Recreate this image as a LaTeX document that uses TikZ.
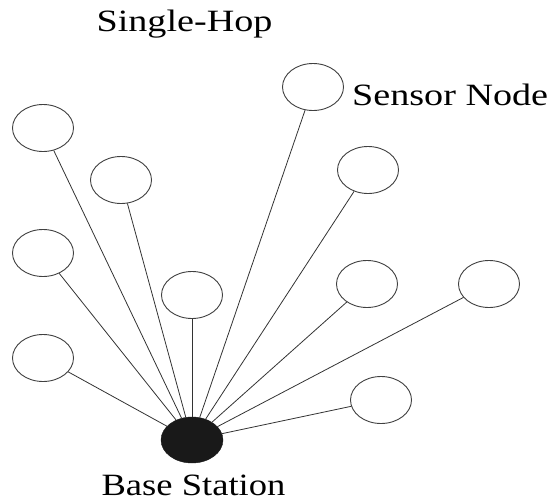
\documentclass[tikz,border=0pt]{standalone}
\usepackage{fontspec}
\setmainfont{Liberation Serif}
\usetikzlibrary{shapes.geometric}
\tikzset{
  sensor/.style={ellipse, draw=black!75, line width=0.9pt, fill=white, minimum width=61pt, minimum height=47pt, inner sep=0pt},
  basest/.style={ellipse, fill=black!90, draw=black!90, minimum width=62pt, minimum height=46pt, inner sep=0pt},
  link/.style={draw=black!80, line width=0.8pt},
  lbl/.style={font=\fontsize{31}{36}\selectfont, inner sep=0pt, text=black}
}
\begin{document}
\begin{tikzpicture}[x=1pt,y=-1pt]
\useasboundingbox (0,0) rectangle (554,501);
\node[basest] (bs) at (192,440) {};
\node[sensor] (c1) at (43,128) {};
\node[sensor] (c2) at (121,180) {};
\node[sensor] (c3) at (43,253) {};
\node[sensor] (c4) at (192,295) {};
\node[sensor] (c5) at (43,358) {};
\node[sensor] (c6) at (313,87) {};
\node[sensor] (c7) at (368,170) {};
\node[sensor] (c8) at (367,284) {};
\node[sensor] (c9) at (489,284) {};
\node[sensor] (c10) at (381,400) {};
\foreach \c in {c1,c2,c3,c4,c5,c6,c7,c8,c9,c10}
  \draw[link] (bs) -- (\c);
\node[lbl, anchor=base] (t1) at (184.5,31) {\scalebox{1.23}[1]{Single-Hop}};
\node[lbl, anchor=base west] (t2) at (352,105) {\scalebox{1.23}[1]{Sensor Node}};
\node[lbl, anchor=base] (t3) at (193.5,495) {\scalebox{1.18}[1]{Base Station}};
\end{tikzpicture}
\end{document}
